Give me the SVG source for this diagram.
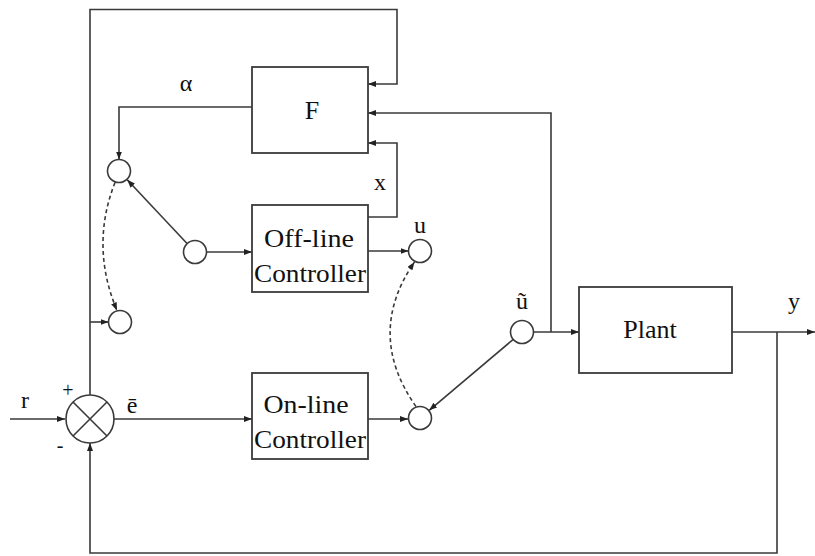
<svg xmlns="http://www.w3.org/2000/svg" width="815" height="556" viewBox="0 0 815 556">
<style>
.ln{fill:none;stroke:#3a3a3a;stroke-width:1.6}
.ds{fill:none;stroke:#3a3a3a;stroke-width:1.6;stroke-dasharray:4 3}
.bx{fill:#fff;stroke:#3a3a3a;stroke-width:1.8}
.cr{fill:#fff;stroke:#3a3a3a;stroke-width:1.6}
text{font-family:'Liberation Serif','Times New Roman',serif;fill:#111;text-anchor:middle}
.t{font-size:26px}
.s{font-size:24px}
</style>
<defs>
<marker id="a" markerUnits="userSpaceOnUse" markerWidth="9" markerHeight="7" refX="8" refY="3" orient="auto">
<path d="M0,0 L8,3 L0,6 z" fill="#222"/>
</marker>
</defs>
<rect width="815" height="556" fill="#fff"/>
<g id="connectors">
<path class="ln" d="M10,419 H65" marker-end="url(#a)"/>
<path class="ln" d="M90,395 V9.5 H397 V84 H368" marker-end="url(#a)"/>
<path class="ln" d="M114,419 H252" marker-end="url(#a)"/>
<path class="ln" d="M368,419 H408" marker-end="url(#a)"/>
<path class="ln" d="M513.6,339.1 L429.2,410.3" marker-end="url(#a)"/>
<path class="ln" d="M533.5,332 H579" marker-end="url(#a)"/>
<path class="ln" d="M551,332 V113 H368" marker-end="url(#a)"/>
<path class="ln" d="M732,332 H815" marker-end="url(#a)"/>
<path class="ln" d="M777,332 V553 H90 V443" marker-end="url(#a)"/>
<path class="ln" d="M368,217 H397 V143 H368" marker-end="url(#a)"/>
<path class="ln" d="M368,251 H408.5" marker-end="url(#a)"/>
<path class="ln" d="M252,107 H119 V159.5" marker-end="url(#a)"/>
<path class="ln" d="M186.8,243.2 L127.2,179.8" marker-end="url(#a)"/>
<path class="ln" d="M206.5,252 H252" marker-end="url(#a)"/>
<path class="ln" d="M90,322 H108.5" marker-end="url(#a)"/>
<path class="ds" d="M115,182.5 Q90,246 117,310.5" marker-end="url(#a)"/>
<path class="ds" d="M416,406.5 Q365,334 414.5,262" marker-end="url(#a)"/>
</g>
<g id="F">
<rect class="bx" x="252" y="67" width="116" height="86"/>
<text class="t" x="312" y="119" font-family="Liberation Serif">F</text>
</g>
<g id="offline">
<rect class="bx" x="252" y="205" width="116" height="87"/>
<text class="t" x="309" y="247" font-family="Liberation Serif" textLength="90" lengthAdjust="spacingAndGlyphs">Off-line</text>
<text class="t" x="310" y="282" font-family="Liberation Serif" textLength="112" lengthAdjust="spacingAndGlyphs">Controller</text>
</g>
<g id="online">
<rect class="bx" x="252" y="373" width="116" height="86"/>
<text class="t" x="306" y="413" font-family="Liberation Serif" textLength="85" lengthAdjust="spacingAndGlyphs">On-line</text>
<text class="t" x="310" y="448" font-family="Liberation Serif" textLength="112" lengthAdjust="spacingAndGlyphs">Controller</text>
</g>
<g id="plant">
<rect class="bx" x="579" y="287" width="153" height="86"/>
<text class="t" x="650" y="338" font-family="Liberation Serif">Plant</text>
</g>
<g id="sum">
<circle class="cr" cx="90" cy="419" r="24"/>
<path class="ln" d="M73,402 L107,436 M107,402 L73,436"/>
</g>
<g id="sw1-top"><circle class="cr" cx="119" cy="171" r="11.5"/></g>
<g id="sw1-bottom"><circle class="cr" cx="120" cy="322" r="11.5"/></g>
<g id="sw1-pivot"><circle class="cr" cx="195" cy="252" r="11.5"/></g>
<g id="sw2-u"><circle class="cr" cx="420" cy="251" r="11.5"/></g>
<g id="sw2-bottom"><circle class="cr" cx="420" cy="418" r="11.5"/></g>
<g id="sw2-pivot"><circle class="cr" cx="522" cy="332" r="11.5"/></g>
<g id="labels">
<text class="s" x="186" y="91">α</text>
<text class="s" x="380" y="190">x</text>
<text class="s" x="420" y="233">u</text>
<text class="s" x="522" y="309">ũ</text>
<text class="s" x="794" y="309">y</text>
<text class="s" x="25" y="408">r</text>
<text class="s" x="132" y="413">ē</text>
<text class="s" x="68" y="397" style="font-size:20px">+</text>
<text class="s" x="60" y="452" style="font-size:20px">-</text>
</g>
</svg>
